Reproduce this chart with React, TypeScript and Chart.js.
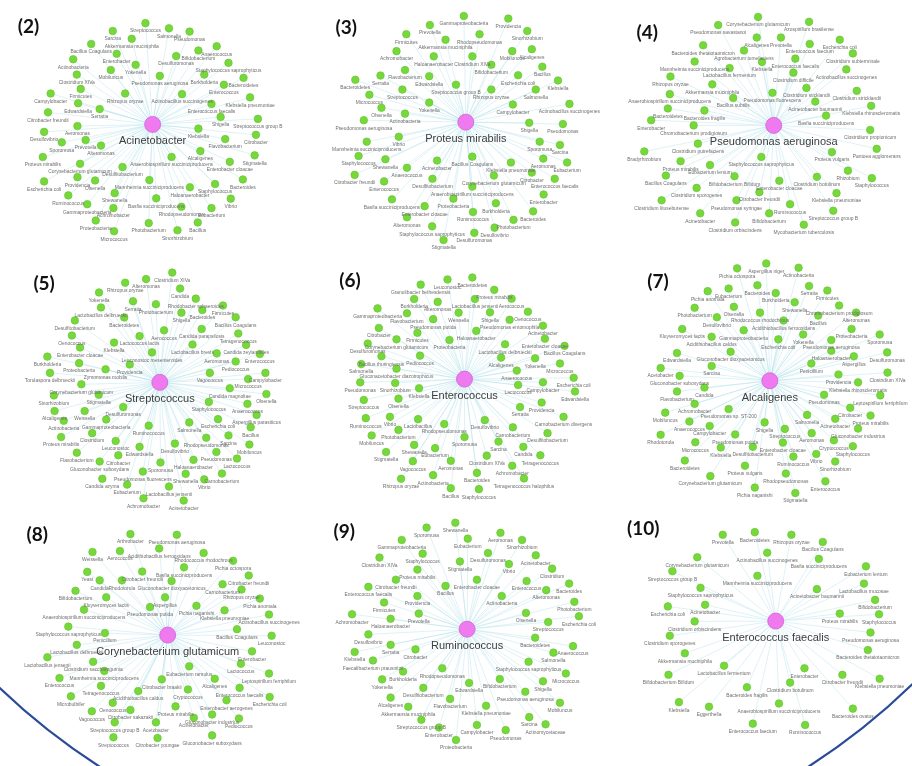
import React, { useEffect, useRef } from 'react';
import { Chart, registerables } from 'chart.js';

Chart.register(...registerables);

type Node = [string, number, number];

// Panel names and hub (centre) taxa
const panelTitles = ['(2)', '(3)', '(4)', '(5)', '(6)', '(7)', '(8)', '(9)', '(10)'];
const hubNames = ['Acinetobacter', 'Proteus mirabilis', 'Pseudomonas aeruginosa', 'Streptococcus', 'Enterococcus', 'Alcaligenes', 'Corynebacterium glutamicum', 'Ruminococcus', 'Enterococcus faecalis'];
// Hub positions in each panel's layout frame (layout units)
const hubX = [440, 498, 528, 462, 494, 516, 486, 502, 534];
const hubY = [355, 348, 358, 412, 402, 407, 438, 420, 395];

// Network layouts: [taxon, layoutX, layoutY]
const acinetobacterNodes: Node[] = [
  ['Streptococcus', 418, 44], ['Salmonella', 490, 60], ['Pseudomonas', 553, 70], ['Sarcina', 318, 68],
  ['Akkermansia muciniphila', 376, 92], ['Anaerococcus', 636, 115], ['Bifidobacterium', 580, 128],
  ['Bacillus Coagulans', 252, 108], ['Enterobacter', 330, 138], ['Desulfuromonas', 512, 145],
  ['Staphylococcus saprophyticus', 672, 166], ['Actinobacteria', 197, 155], ['Yokenella', 388, 172],
  ['Mobiluncus', 312, 188], ['Clostridium XIVa', 208, 202], ['Pseudomonas aeruginosa', 462, 206],
  ['Burkholderia', 598, 202], ['Bacteroidetes', 718, 212], ['Enterococcus', 658, 233],
  ['Campylobacter', 128, 260], ['Firmicutes', 220, 246], ['Rhizopus oryzae', 356, 260],
  ['Actinobacillus succinogenes', 530, 262], ['Klebsiella pneumoniae', 738, 272], ['Edwardsiella', 212, 290],
  ['Serratia', 278, 308], ['Enterococcus faecalis', 620, 292], ['Citrobacter freundii', 120, 318],
  ['Shigella', 648, 332], ['Streptococcus group B', 762, 338], ['Aeromonas', 210, 360],
  ['Klebsiella', 580, 368], ['Citrobacter', 756, 387], ['Desulfovibrio', 108, 378], ['Sporomusa', 162, 410],
  ['Prevotella', 235, 403], ['Alteromonas', 282, 420], ['Flavobacterium', 662, 400], ['Alcaligenes', 586, 437],
  ['Stigmatella', 752, 450], ['Proteus mirabilis', 104, 455], ['Corynebacterium glutamicum', 218, 476],
  ['Anaerobiospirillum succiniciproducens', 498, 455], ['Enterobacter cloacae', 676, 470],
  ['Desulfitobacterium', 348, 486], ['Escherichia coli', 108, 530], ['Providencia', 210, 517],
  ['Olsenella', 264, 527], ['Mannheimia succiniciproducens', 430, 526], ['Bacteroides', 716, 524],
  ['Staphylococcus', 631, 538], ['Haloanaerobacter', 554, 548], ['Ruminococcus', 182, 573],
  ['Shewanella', 324, 566], ['Vibrio', 679, 583], ['Gammaproteobacteria', 240, 600],
  ['Basfia succiniciproducens', 451, 582], ['Achromobacter', 320, 612], ['Rhodopseudomonas', 528, 608],
  ['Eubacterium', 620, 612], ['Proteobacteria', 266, 650], ['Bacillus', 578, 656],
  ['Photobacterium', 428, 658], ['Micrococcus', 322, 683], ['Sinorhizobium', 516, 680],
];

const proteusNodes: Node[] = [
  ['Gammaproteobacteria', 492, 22], ['Providencia', 628, 30], ['Sinorhizobium', 686, 68], ['Prevotella', 388, 50],
  ['Rhodopseudomonas', 540, 78], ['Firmicutes', 316, 78], ['Akkermansia muciniphila', 436, 95],
  ['Mobiluncus', 640, 130], ['Alcaligenes', 700, 124], ['Achromobacter', 286, 130], ['Haloanaerobacter', 400, 146],
  ['Clostridium XIVa', 518, 146], ['Bifidobacterium', 576, 172], ['Bacillus', 732, 178], ['Flavobacterium', 312, 188],
  ['Serratia', 237, 205], ['Edwardsiella', 386, 207], ['Bacteroidetes', 160, 218], ['Escherichia coli', 658, 204],
  ['Klebsiella', 780, 220], ['Streptococcus group B', 468, 233], ['Streptococcus', 304, 248],
  ['Rhizopus oryzae', 576, 248], ['Salmonella', 712, 248], ['Micrococcus', 203, 264], ['Yokenella', 386, 288],
  ['Olsenella', 240, 304], ['Campylobacter', 642, 294], ['Actinobacillus succinogenes', 815, 292],
  ['Actinobacteria', 312, 322], ['Pseudomonas aeruginosa', 186, 342], ['Shigella', 692, 350],
  ['Pseudomonas', 795, 354], ['Vibrio', 293, 393], ['Mannheimia succiniciproducens', 195, 408],
  ['Sporomusa', 724, 408], ['Sarcina', 786, 418], ['Staphylococcus', 170, 452], ['Shewanella', 252, 462],
  ['Acinetobacter', 410, 466], ['Bacillus Coagulans', 518, 454], ['Klebsiella pneumoniae', 636, 472],
  ['Aeromonas', 735, 460], ['Eubacterium', 808, 472], ['Anaerococcus', 318, 488], ['Citrobacter', 700, 503],
  ['Citrobacter freundii', 158, 510], ['Enterococcus', 248, 530], ['Desulfitobacterium', 396, 522],
  ['Corynebacterium glutamicum', 584, 512], ['Anaerobiospirillum succiniciproducens', 518, 546],
  ['Enterococcus faecalis', 770, 522], ['Enterobacter', 736, 570], ['Basfia succiniciproducens', 272, 585],
  ['Proteobacteria', 460, 583], ['Enterobacter cloacae', 372, 606], ['Burkholderia', 590, 597],
  ['Bacteroides', 704, 622], ['Alteromonas', 318, 640], ['Ruminococcus', 520, 624], ['Photobacterium', 644, 648],
  ['Staphylococcus saprophyticus', 395, 668], ['Desulfovibrio', 586, 672], ['Desulfuromonas', 524, 688],
  ['Stigmatella', 430, 710],
];

const pseudomonasNodes: Node[] = [
  ['Corynebacterium glutamicum', 480, 25], ['Azospirillum brasilense', 636, 40], ['Pseudomonas savastanoi', 358, 50],
  ['Alcaligenes', 476, 88], ['Prevotella', 550, 88], ['Escherichia coli', 730, 95], ['Enterococcus faecium', 638, 108],
  ['Bacteroides thetaiotaomicron', 312, 112], ['Agrobacterium tumefaciens', 437, 128],
  ['Clostridium subterminale', 770, 137], ['Klebsiella', 492, 163], ['Enterococcus faecalis', 594, 153],
  ['Mannheimia succiniciproducens', 286, 162], ['Lactobacillus fermentum', 393, 182],
  ['Actinobacillus succinogenes', 750, 186], ['Rhizopus oryzae', 212, 208], ['Clostridium difficile', 588, 196],
  ['Akkermansia muciniphila', 340, 232], ['Clostridium sticklandii', 628, 243], ['Clostridium stricklandii', 782, 252],
  ['Anaerobiospirillum succiniciproducens', 210, 262], ['Bacillus subtilis', 404, 274],
  ['Pseudomonas fluorescens', 524, 258], ['Acinetobacter baumannii', 655, 285],
  ['Klebsiella rhinoscleromatis', 826, 298], ['Bacteroidetes', 204, 306], ['Bacteroides fragilis', 316, 312],
  ['Basfia succiniciproducens', 688, 328], ['Enterobacter', 153, 342], ['Chromobacterium prodigiosum', 283, 358],
  ['Clostridium propionicum', 823, 372], ['Clostridium putrefaciens', 296, 414], ['Bradyrhizobium', 132, 438],
  ['Staphylococcus saprophyticus', 490, 455], ['Proteus vulgaris', 706, 440], ['Pantoea agglomerans', 843, 430],
  ['Proteus mirabilis', 243, 468], ['Eubacterium lentum', 333, 480], ['Rhizobium', 755, 497],
  ['Staphylococcus', 828, 520], ['Bacillus Coagulans', 198, 512], ['Bifidobacterium Bifidum', 408, 514],
  ['Enterobacter cloacae', 545, 528], ['Clostridium botulinum', 660, 516], ['Clostridium sporogenes', 292, 550],
  ['Pseudomonas syringae', 414, 588], ['Citrobacter freundii', 484, 563], ['Klebsiella pneumoniae', 720, 566],
  ['Clostridium lituseburense', 185, 588], ['Ruminococcus', 578, 600], ['Streptococcus group B', 710, 620],
  ['Acinetobacter', 303, 628], ['Bifidobacterium', 514, 628], ['Clostridium orbiscindens', 410, 656],
  ['Mycobacterium tuberculosis', 620, 663],
];

const streptococcusNodes: Node[] = [
  ['Clostridium XIVa', 500, 75], ['Alteromonas', 420, 95], ['Rhizopus oryzae', 356, 106], ['Candida', 524, 124],
  ['Yokenella', 276, 136], ['Rhodobacter sphaeroides', 572, 155], ['Serratia', 380, 163], ['Photobacterium', 450, 172],
  ['Firmicutes', 655, 176], ['Bacteroides', 592, 190], ['Shigella', 528, 198], ['Lactobacillus delbrueckii', 282, 182],
  ['Bacteroidetes', 353, 213], ['Bacillus Coagulans', 694, 212], ['Desulfitobacterium', 202, 222],
  ['Candida parapsilosis', 590, 248], ['Aerococcus', 475, 252], ['Tetragenococcus', 702, 262],
  ['Lactococcus lactis', 400, 270], ['Oenococcus', 193, 268], ['Klebsiella', 322, 290],
  ['Candida zeylanoides', 726, 297], ['Lactobacillus brevis', 562, 296], ['Enterobacter cloacae', 218, 305],
  ['Leuconostoc mesenteroides', 438, 320], ['Aeromonas', 636, 323], ['Enterococcus', 768, 325],
  ['Burkholderia', 118, 333], ['Proteobacteria', 215, 353], ['Providencia', 370, 357], ['Pediococcus', 694, 348],
  ['Zymomonas mobilis', 296, 372], ['Torulaspora delbrueckii', 126, 383], ['Vagococcus', 615, 383],
  ['Campylobacter', 785, 383], ['Micrococcus', 732, 402], ['Corynebacterium glutamicum', 222, 418],
  ['Candida magnoliae', 676, 430], ['Olsenella', 788, 448], ['Stigmatella', 275, 450], ['Sinorhizobium', 138, 452],
  ['Staphylococcus', 612, 472], ['Desulfuromonas', 350, 488], ['Anaerococcus', 730, 478], ['Weissella', 232, 500],
  ['Alcaligenes', 140, 500], ['Actinobacteria', 168, 530], ['Gammaproteobacteria', 298, 526], ['Salmonella', 552, 535],
  ['Escherichia coli', 640, 525], ['Aspergillus parasiticus', 758, 512], ['Ruminococcus', 428, 545],
  ['Bacillus', 740, 550], ['Clostridium', 255, 568], ['Rhodopseudomonas', 604, 582], ['Sarcina', 672, 575],
  ['Leuconostoc', 327, 592], ['Proteus mirabilis', 160, 580], ['Desulfovibrio', 508, 600], ['Edwardsiella', 400, 610],
  ['Mobiluncus', 736, 603], ['Flavobacterium', 208, 628], ['Pseudomonas', 635, 626], ['Citrobacter', 335, 636],
  ['Lactococcus', 698, 646], ['Haloanaerobacter', 565, 650], ['Gluconobacter suboxydans', 278, 655],
  ['Sporomusa', 464, 658], ['Pseudomonas fluorescens', 410, 686], ['Shewanella', 541, 693], ['Vibrio', 598, 710],
  ['Carnobacterium', 652, 692], ['Candida azyma', 286, 708], ['Eubacterium', 362, 726],
  ['Lactobacillus jensenii', 490, 732], ['Achromobacter', 412, 768], ['Acinetobacter', 535, 775],
];

const enterococcusNodes: Node[] = [
  ['Bacteroidetes', 518, 90], ['Leuconostoc', 442, 96], ['Granulibacter bethesdensis', 360, 112],
  ['Proteus mirabilis', 585, 128], ['Burkholderia', 340, 156], ['Alteromonas', 412, 165],
  ['Lactobacillus jensenii', 526, 156], ['Aerococcus', 638, 155], ['Oenococcus', 688, 195],
  ['Gammaproteobacteria', 228, 185], ['Flavobacterium', 318, 200], ['Pseudomonas putida', 398, 218],
  ['Weissella', 476, 198], ['Shigella', 572, 197], ['Pseudomonas entomophila', 632, 220], ['Acinetobacter', 734, 238],
  ['Haloanaerobacter', 530, 254], ['Citrobacter', 232, 245], ['Firmicutes', 350, 260], ['Proteobacteria', 448, 282],
  ['Enterobacter cloacae', 740, 278], ['Corynebacterium glutamicum', 286, 280], ['Desulfuromonas', 198, 293],
  ['Bacillus Coagulans', 800, 300], ['Lactobacillus delbrueckii', 618, 295], ['Pediococcus', 358, 330],
  ['Bacillus thuringiensis', 240, 332], ['Yokenella', 710, 338], ['Alcaligenes', 606, 336], ['Salmonella', 178, 356],
  ['Micrococcus', 786, 354], ['Gluconacetobacter diazotrophicus', 286, 370], ['Anaerococcus', 654, 376],
  ['Pseudomonas', 175, 412], ['Sinorhizobium', 282, 414], ['Escherichia coli', 828, 398], ['Klebsiella', 355, 430],
  ['Lactococcus', 658, 420], ['Campylobacter', 734, 412], ['Edwardsiella', 832, 440], ['Olsenella', 292, 462],
  ['Streptococcus', 186, 466], ['Providencia', 730, 474], ['Serratia', 664, 488],
  ['Carnobacterium divergens', 797, 518], ['Ruminococcus', 192, 522], ['Vibrio', 266, 518],
  ['Lactobacillus', 352, 525], ['Rhodopseudomonas', 432, 540], ['Desulfovibrio', 556, 528],
  ['Carnobacterium', 642, 550], ['Photobacterium', 292, 558], ['Desulfitobacterium', 748, 568],
  ['Mobiluncus', 210, 575], ['Sporomusa', 494, 580], ['Sarcina', 598, 594], ['Shewanella', 340, 604],
  ['Eubacterium', 404, 614], ['Candida', 674, 610], ['Tetragenococcus', 726, 636], ['Stigmatella', 254, 626],
  ['Clostridium XIVa', 562, 637], ['Vagococcus', 336, 654], ['Aeromonas', 452, 653], ['Achromobacter', 640, 668],
  ['Actinobacteria', 398, 697], ['Bacteroides', 532, 690], ['Rhizopus oryzae', 300, 708],
  ['Tetragenococcus halophilus', 676, 707], ['Bacillus', 452, 737], ['Staphylococcus', 538, 740],
];

const alcaligenesNodes: Node[] = [
  ['Aspergillus niger', 505, 47], ['Actinobacteria', 604, 60], ['Pichia octospora', 416, 62], ['Bacteroides', 478, 114],
  ['Burkholderia', 534, 138], ['Pichia anomala', 326, 132], ['Eubacterium', 390, 124], ['Serratia', 636, 116],
  ['Firmicutes', 692, 130], ['Shewanella', 592, 166], ['Photobacterium', 286, 183], ['Olsenella', 406, 180],
  ['Desulfovibrio', 354, 212], ['Rhodococcus rhodochrous', 486, 198], ['Bacillus', 664, 207],
  ['Chromobacterium prodigiosum', 728, 176], ['Alteromonas', 780, 198], ['Acidithiobacillus ferrooxidans', 558, 222],
  ['Gammaproteobacteria', 436, 252], ['Kluyveromyces lactis', 248, 248], ['Acidithiobacillus caldus', 338, 272],
  ['Gluconobacter dioxyacetonicus', 396, 318], ['Escherichia coli', 542, 280], ['Yokenella', 618, 265],
  ['Proteobacteria', 766, 248], ['Sporomusa', 852, 265], ['Pseudomonas aeruginosa', 704, 282],
  ['Edwardsiella', 232, 322], ['Haloanaerobacter', 704, 315], ['Aspergillus', 773, 332], ['Desulfuromonas', 875, 320],
  ['Sarcina', 338, 362], ['Acetobacter', 182, 368], ['Gluconobacter suboxydans', 240, 392], ['Penicillium', 643, 354],
  ['Clostridium XIVa', 876, 382], ['Providencia', 726, 388], ['Klebsiella rhinoscleromatis', 786, 412],
  ['Candida', 316, 428], ['Flavobacterium', 232, 440], ['Leptospirillum ferriphilum', 854, 452],
  ['Pseudomonas', 682, 450], ['Achromobacter', 286, 478], ['Mobiluncus', 196, 505],
  ['Pseudomonas sp. ST-200', 390, 494], ['Citrobacter', 762, 490], ['Proteus mirabilis', 824, 514],
  ['Salmonella', 630, 512], ['Shigella', 500, 535], ['Acinetobacter', 716, 524], ['Anaerococcus', 270, 532],
  ['Campylobacter', 332, 546], ['Gluconobacter industrius', 786, 554], ['Streptococcus', 562, 555],
  ['Pseudomonas putida', 410, 572], ['Rhodotorula', 182, 573], ['Aeromonas', 644, 568], ['Micrococcus', 288, 596],
  ['Enterobacter cloacae', 556, 597], ['Desulfitobacterium', 464, 610], ['Klebsiella', 366, 612],
  ['Cryptococcus', 712, 590], ['Staphylococcus', 770, 608], ['Ruminococcus', 588, 640], ['Vibrio', 658, 632],
  ['Bacteroidetes', 256, 652], ['Sinorhizobium', 716, 655], ['Proteus vulgaris', 440, 668],
  ['Corynebacterium glutamicum', 334, 700], ['Rhodopseudomonas', 565, 692], ['Enterococcus', 686, 716],
  ['Pichia naganishi', 470, 735], ['Stigmatella', 594, 752],
];

const corynebacteriumNodes: Node[] = [
  ['Arthrobacter', 372, 128], ['Pseudomonas aeruginosa', 514, 130], ['Acidithiobacillus ferrooxidans', 460, 172],
  ['Weissella', 256, 183], ['Aerococcus', 340, 180], ['Rhodococcus rhodochrous', 596, 186], ['Pichia octospora', 686, 210],
  ['Basfia succiniciproducens', 536, 230], ['Yeast', 240, 244], ['Citrobacter freundii', 408, 243], ['Candida', 278, 270],
  ['Rhodotorula', 346, 270], ['Gluconobacter dioxyacetonicus', 498, 272], ['Citrobacter freundii', 734, 255],
  ['Carnobacterium', 654, 282], ['Rhizopus oryzae', 712, 298], ['Pichia anomala', 768, 326],
  ['Bifidobacterium', 204, 302], ['Kluyveromyces lactis', 298, 322], ['Aspergillus', 478, 322],
  ['Pseudomonas putida', 432, 352], ['Pichia naganishi', 574, 348], ['Klebsiella pneumoniae', 660, 362],
  ['Anaerobiospirillum succiniciproducens', 230, 360], ['Actinobacillus succinogenes', 796, 375],
  ['Staphylococcus saprophyticus', 182, 412], ['Penicillium', 294, 432], ['Bacillus Coagulans', 698, 420],
  ['Leuconostoc', 804, 440], ['Lactobacillus delbrueckii', 208, 468], ['Enterobacter', 744, 488],
  ['Lactobacillus jensenii', 118, 506], ['Clostridium saccharogumia', 258, 520],
  ['Mannheimia succiniciproducens', 292, 548], ['Eubacterium ramulus', 552, 534], ['Lactococcus', 710, 526],
  ['Leptospirillum ferriphilum', 796, 556], ['Enterococcus', 155, 570], ['Citrobacter braakii', 468, 574],
  ['Alcaligenes', 630, 572], ['Tetragenococcus', 282, 594], ['Enterococcus faecalis', 706, 600],
  ['Cryptococcus', 548, 605], ['Acidithiobacillus caldus', 396, 610], ['Microbulbifer', 190, 626],
  ['Enterobacter aerogenes', 666, 638], ['Escherichia coli', 798, 628], ['Oenococcus', 318, 646],
  ['Proteus mirabilis', 510, 657], ['Vagococcus', 254, 672], ['Citrobacter sakazakii', 372, 668],
  ['Acinetobacter', 566, 692], ['Gluconobacter industrius', 622, 682], ['Pediococcus', 704, 694],
  ['Streptococcus group B', 324, 706], ['Acetobacter', 450, 706], ['Streptococcus', 320, 752],
  ['Citrobacter youngae', 455, 754], ['Gluconobacter suboxydans', 622, 746],
];

const ruminococcusNodes: Node[] = [
  ['Shewanella', 466, 93], ['Sporomusa', 378, 108], ['Aeromonas', 604, 124], ['Eubacterium', 504, 142],
  ['Gammaproteobacteria', 302, 146], ['Sinorhizobium', 670, 146], ['Staphylococcus', 366, 188],
  ['Desulfuromonas', 566, 186], ['Acinetobacter', 712, 193], ['Clostridium XIVa', 234, 200], ['Stigmatella', 480, 212],
  ['Vibrio', 630, 220], ['Proteus mirabilis', 350, 237], ['Clostridium', 762, 234], ['Citrobacter freundii', 284, 268],
  ['Enterobacter cloacae', 532, 268], ['Enterococcus', 684, 272], ['Bacteroides', 814, 280],
  ['Enterococcus faecalis', 200, 290], ['Bacillus', 436, 287], ['Alteromonas', 744, 300], ['Providencia', 350, 318],
  ['Actinobacteria', 608, 318], ['Firmicutes', 248, 338], ['Photobacterium', 830, 336], ['Achromobacter', 150, 374],
  ['Haloanaerobacter', 268, 388], ['Prevotella', 354, 372], ['Olsenella', 682, 370], ['Streptococcus', 750, 398],
  ['Escherichia coli', 844, 380], ['Desulfovibrio', 200, 436], ['Bacteroidetes', 710, 446], ['Serratia', 268, 468],
  ['Citrobacter', 344, 482], ['Klebsiella', 158, 490], ['Faecalibacterium prausnitzii', 214, 516],
  ['Anaerococcus', 826, 472], ['Salmonella', 766, 492], ['Staphylococcus saprophyticus', 690, 520],
  ['Rhodopseudomonas', 426, 540], ['Burkholderia', 306, 550], ['Micrococcus', 804, 556], ['Yokenella', 242, 574],
  ['Edwardsiella', 508, 585], ['Bifidobacterium', 602, 573], ['Shigella', 734, 580], ['Desulfitobacterium', 368, 600],
  ['Pseudomonas aeruginosa', 680, 612], ['Mobiluncus', 786, 646], ['Alcaligenes', 268, 630],
  ['Flavobacterium', 450, 634], ['Akkermansia muciniphila', 322, 658], ['Klebsiella pneumoniae', 560, 655],
  ['Sarcina', 692, 690], ['Actinomycetaceae', 742, 712], ['Streptococcus group B', 362, 698],
  ['Enterobacter', 416, 722], ['Campylobacter', 532, 714], ['Pseudomonas', 620, 730], ['Proteobacteria', 468, 760],
];

const faecalisNodes: Node[] = [
  ['Prevotella', 372, 130], ['Bacteroidetes', 470, 122], ['Rhizopus oryzae', 582, 130], ['Bacillus Coagulans', 678, 152],
  ['Actinobacillus succinogenes', 508, 185], ['Corynebacterium glutamicum', 294, 199],
  ['Basfia succiniciproducens', 666, 204], ['Eubacterium lentum', 810, 227], ['Streptococcus group B', 218, 242],
  ['Mannheimia succiniciproducens', 478, 256], ['Lactobacillus mucosae', 804, 280],
  ['Staphylococcus saprophyticus', 304, 293], ['Acinetobacter baumannii', 660, 297], ['Bifidobacterium', 838, 330],
  ['Escherichia coli', 204, 350], ['Acinetobacter', 318, 345], ['Proteus mirabilis', 730, 372],
  ['Staphylococcus', 850, 374], ['Clostridium orbiscindens', 286, 396], ['Clostridium sporogenes', 210, 440],
  ['Pseudomonas aeruginosa', 824, 430], ['Akkermansia muciniphila', 256, 494],
  ['Bacteroides thetaiotaomicron', 816, 484], ['Lactobacillus fermentum', 376, 532], ['Enterobacter', 622, 540],
  ['Bifidobacterium Bifidum', 206, 560], ['Citrobacter freundii', 738, 560], ['Klebsiella pneumoniae', 852, 572],
  ['Bacteroides fragilis', 446, 598], ['Clostridium botulinum', 578, 584], ['Klebsiella', 238, 644],
  ['Eggerthella', 330, 658], ['Anaerobiospirillum succiniciproducens', 544, 648], ['Bacteroides ovatus', 770, 664],
  ['Enterococcus faecium', 464, 710], ['Ruminococcus', 624, 714],
];

const panelNodes: Node[][] = [
  acinetobacterNodes, proteusNodes, pseudomonasNodes, streptococcusNodes, enterococcusNodes,
  alcaligenesNodes, corynebacteriumNodes, ruminococcusNodes, faecalisNodes,
];

// ---- layout (page geometry, not data) ----
const W = 912;
const H = 766;
const FRAME_X = [0, 300, 604, 0, 300, 604, 0, 300, 604];
const FRAME_Y = [0, 0, 0, 245, 245, 245, 495, 495, 495];
const FRAME_SCALE = 1 / 3;
const TITLE_POS: [number, number][] = [
  [20, 19], [344, 20], [651, 25], [36, 282], [348, 278], [662, 280], [29, 538], [342, 535], [647, 532],
];

const toPage = (p: number, lx: number, ly: number) => ({
  x: FRAME_X[p] + lx * FRAME_SCALE,
  y: FRAME_Y[p] + ly * FRAME_SCALE,
});

const networkPlugin = {
  id: 'network',
  beforeDatasetsDraw(chart: any) {
    const ctx = chart.ctx;
    const hubMeta = chart.getDatasetMeta(9);
    ctx.save();
    ctx.strokeStyle = 'rgba(160, 218, 230, 0.7)';
    ctx.lineWidth = 0.5;
    for (let p = 0; p < 9; p++) {
      const hub = hubMeta.data[p];
      const meta = chart.getDatasetMeta(p);
      ctx.beginPath();
      for (const el of meta.data) {
        ctx.moveTo(hub.x, hub.y);
        ctx.lineTo(el.x, el.y);
      }
      ctx.stroke();
    }
    ctx.restore();
  },
  afterDatasetsDraw(chart: any) {
    const ctx = chart.ctx;
    ctx.save();
    ctx.textAlign = 'center';
    ctx.textBaseline = 'middle';
    ctx.fillStyle = '#6e6e6e';
    ctx.font = '4.9px "Liberation Sans", Arial, sans-serif';
    for (let p = 0; p < 9; p++) {
      const meta = chart.getDatasetMeta(p);
      meta.data.forEach((el: any, i: number) => {
        ctx.fillText(panelNodes[p][i][0], el.x, el.y + 8);
      });
    }
    const hubMeta = chart.getDatasetMeta(9);
    ctx.fillStyle = '#3c3c3c';
    ctx.font = '11px "Liberation Sans", Arial, sans-serif';
    hubMeta.data.forEach((el: any, i: number) => {
      ctx.fillText(hubNames[i], el.x, el.y + 17);
    });
    ctx.restore();
  },
  afterDraw(chart: any) {
    const ctx = chart.ctx;
    const xs = chart.scales.x;
    const ys = chart.scales.y;
    ctx.save();
    // big outline circle visible at bottom corners
    const cx = xs.getPixelForValue(454);
    const cy = ys.getPixelForValue(208);
    const r = xs.getPixelForValue(454 + 671) - cx;
    ctx.beginPath();
    ctx.arc(cx, cy, r, 0, Math.PI * 2);
    ctx.strokeStyle = '#2b4b98';
    ctx.lineWidth = 2.2;
    ctx.stroke();
    // panel numbers
    ctx.fillStyle = '#111';
    ctx.font = 'bold 19px Lato, "Open Sans", sans-serif';
    ctx.textAlign = 'center';
    ctx.textBaseline = 'middle';
    panelTitles.forEach((t, i) => {
      ctx.fillText(t, xs.getPixelForValue(TITLE_POS[i][0]), ys.getPixelForValue(TITLE_POS[i][1]));
    });
    ctx.restore();
  },
};

export default function App() {
  const canvasRef = useRef<HTMLCanvasElement | null>(null);

  useEffect(() => {
    if (!canvasRef.current) return;
    const datasets: any[] = panelNodes.map((nodes, p) => ({
      label: hubNames[p],
      data: nodes.map(([, lx, ly]) => toPage(p, lx, ly)),
      pointRadius: 3.8,
      pointBackgroundColor: '#76d83a',
      pointBorderColor: '#62c22c',
      pointBorderWidth: 0.6,
      showLine: false,
    }));
    datasets.push({
      label: 'hubs',
      data: hubX.map((hx, p) => toPage(p, hx, hubY[p])),
      pointRadius: 8,
      pointBackgroundColor: '#ef7aef',
      pointBorderColor: '#d45fd4',
      pointBorderWidth: 0.8,
      showLine: false,
    });

    const chart = new Chart(canvasRef.current, {
      type: 'scatter',
      data: { datasets },
      options: {
        animation: false,
        responsive: false,
        maintainAspectRatio: false,
        events: [],
        layout: { padding: 0 },
        plugins: { legend: { display: false }, tooltip: { enabled: false } },
        scales: {
          x: { type: 'linear', min: 0, max: W, display: false },
          y: { type: 'linear', min: 0, max: H, reverse: true, display: false },
        },
      },
      plugins: [networkPlugin],
    } as any);
    return () => chart.destroy();
  }, []);

  return (
    <div style={{ position: 'absolute', left: 0, top: 0, width: W, height: H, background: '#fff', overflow: 'hidden' }}>
      <canvas ref={canvasRef} width={W} height={H} style={{ display: 'block' }} />
    </div>
  );
}
